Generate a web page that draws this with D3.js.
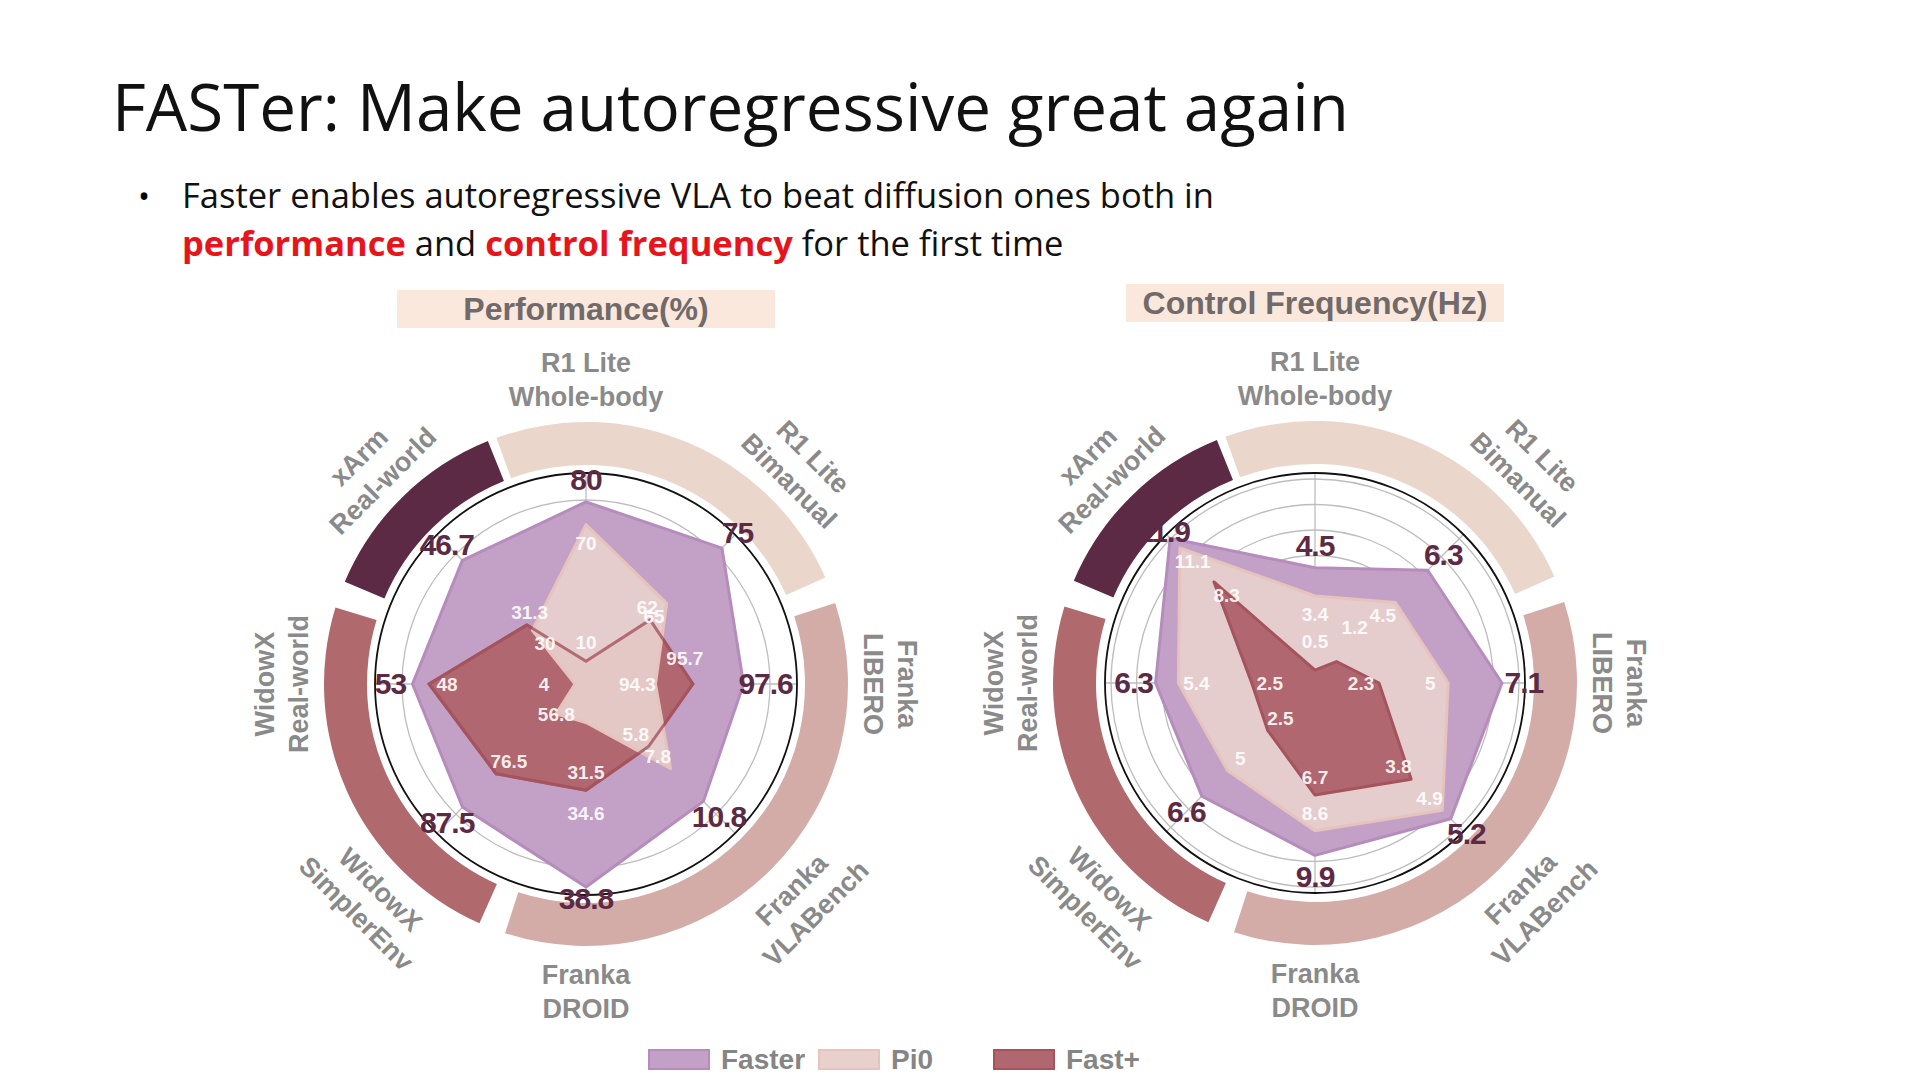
<!DOCTYPE html>
<html>
<head>
<meta charset="utf-8">
<script src="https://d3js.org/d3.v7.min.js"></script>
<style>
  body { margin: 0; background: #fff; }
  text { font-family: "Liberation Sans", Arial, sans-serif; }
</style>
</head>
<body>
<script>
// axes clockwise from top
var axes = ["R1 Lite\nWhole-body", "R1 Lite\nBimanual", "Franka\nLIBERO", "Franka\nVLABench",
            "Franka\nDROID", "WidowX\nSimplerEnv", "WidowX\nReal-world", "xArm\nReal-world"];
var series = ["Faster", "Pi0", "Fast+"];

// performance (%)
var perfFaster = [80, 75, 97.6, 10.8, 38.8, 87.5, 53, 46.7];
var perfPi0    = [70, 65, 94.3, 7.8, 26.4, 56.8, 4, 30];
var perfFastP  = [10, 62, 95.7, 5.8, 31.5, 76.5, 48, 31.3];
var perfPi0Labels = ["70", "65", "94.3", "7.8", "34.6", "56.8", "4", "30"];
var perfLo = [0, 50.4, 91.7, 0.1, 23.5, 47, 0.7, 17.2];
var perfHi = [92.7, 77.4, 99.6, 13.7, 39.4, 96, 64.3, 52.8];

// control frequency (Hz)
var freqFaster = [4.5, 6.3, 7.1, 5.2, 9.9, 6.6, 6.3, 11.9];
var freqPi0    = [3.4, 4.5, 5, 4.9, 8.6, 5, 5.4, 11.1];
var freqFastP  = [0.5, 1.2, 2.3, 3.8, 6.7, 2.5, 2.5, 8.3];
var freqLo = [0, 0, -0.2, 0.4, 0.75, -0.45, 0, 0];
var freqHi = [8.2, 8.3, 8.0, 5.65, 11.9, 8.8, 8.3, 12.2];

var groups = [
  {from: -20, to: 66, color: "#ead6ca"},
  {from: 72, to: 198, color: "#d4aca7"},
  {from: 204, to: 287, color: "#b06a6d"},
  {from: 293, to: 338, color: "#5d2a45"}
];
var colors = {
  "Faster": {fill: "#c3a1c7", stroke: "#b58cbc"},
  "Pi0":    {fill: "#e8d0cd", stroke: "#e6c3bd"},
  "Fast+":  {fill: "#b0676f", stroke: "#a5545e"}
};

var W = 1920, H = 1080;
var svg = d3.select("body").append("svg").attr("width", W).attr("height", H);

// slide header
svg.append("text").attr("x", 112).attr("y", 131)
  .style("font-family", "'Open Sans', sans-serif").attr("font-size", 65.5)
  .attr("fill", "#111").text("FASTer: Make autoregressive great again");
svg.append("text").attr("x", 138).attr("y", 208)
  .style("font-family", "'Open Sans', sans-serif").attr("font-size", 32).text("•");
svg.append("text").attr("x", 182).attr("y", 208)
  .style("font-family", "'Open Sans', sans-serif").attr("font-size", 34.5).attr("fill", "#111")
  .text("Faster enables autoregressive VLA to beat diffusion ones both in");
var l2 = svg.append("text").attr("x", 182).attr("y", 256)
  .style("font-family", "'Open Sans', sans-serif").attr("font-size", 34.5).attr("fill", "#111");
l2.append("tspan").attr("fill", "#e8141b").attr("font-weight", "bold").text("performance");
l2.append("tspan").text(" and ");
l2.append("tspan").attr("fill", "#e8141b").attr("font-weight", "bold").text("control frequency");
l2.append("tspan").text(" for the first time");

function radar(cx, cy, R, title, titleY, data, lo, hi, ringStep, rings, order, labels) {
  var g = svg.append("g").attr("transform", "translate(" + cx + "," + cy + ")");
  var ang = d3.scaleLinear().domain([0, axes.length]).range([0, 2 * Math.PI]);
  var scales = axes.map(function(a, i) { return d3.scaleLinear().domain([lo[i], hi[i]]).range([0, R]); });
  function pt(i, r) { return [r * Math.sin(ang(i)), -r * Math.cos(ang(i))]; }

  // title box
  svg.append("rect").attr("x", cx - 189).attr("y", titleY).attr("width", 378).attr("height", 38)
    .attr("fill", "#fbe8dc");
  svg.append("text").attr("x", cx).attr("y", titleY + 30).attr("text-anchor", "middle")
    .attr("font-size", 32).attr("font-weight", "bold").attr("fill", "#716a6a").text(title);

  // group arcs
  var arc = d3.arc().innerRadius(219).outerRadius(262);
  g.selectAll(".grp").data(groups).enter().append("path")
    .attr("d", function(d) { return arc({startAngle: d.from * Math.PI / 180, endAngle: d.to * Math.PI / 180}); })
    .attr("fill", function(d) { return d.color; });

  // grid
  g.selectAll(".ring").data(d3.range(1, rings + 1)).enter().append("circle")
    .attr("r", function(d) { return d * ringStep; })
    .attr("fill", "none").attr("stroke", "#bdbdbd").attr("stroke-width", 1.3);
  g.selectAll(".spoke").data(axes).enter().append("line")
    .attr("x1", 0).attr("y1", 0)
    .attr("x2", function(d, i) { return pt(i, R)[0]; })
    .attr("y2", function(d, i) { return pt(i, R)[1]; })
    .attr("stroke", "#bdbdbd").attr("stroke-width", 1.3);
  g.append("circle").attr("r", R).attr("fill", "none").attr("stroke", "#111").attr("stroke-width", 1.8);

  // polygons
  var line = d3.line().curve(d3.curveLinearClosed);
  order.forEach(function(s) {
    var vals = data[s];
    g.append("path")
      .attr("d", line(vals.map(function(v, i) { return pt(i, scales[i](v)); })))
      .attr("fill", colors[s].fill).attr("fill-opacity", s === "Pi0" ? 0.92 : 1)
      .attr("stroke", colors[s].stroke).attr("stroke-width", 3).attr("stroke-linejoin", "round");
  });
  if (order[order.length - 1] === "Pi0") {
    g.append("path")
      .attr("d", line(data["Fast+"].map(function(v, i) { return pt(i, scales[i](v)); })))
      .attr("fill", "none").attr("stroke", colors["Fast+"].stroke).attr("stroke-width", 3)
      .attr("stroke-opacity", 0.8);
  }

  // value labels
  var placed = [];
  ["Pi0", "Fast+"].forEach(function(s) {
    data[s].forEach(function(v, i) {
      var txt = (labels && labels[s]) ? labels[s][i] : String(v);
      var r = scales[i](labels && labels[s] ? +txt : v);
      var p = pt(i, Math.max(r - 18, 42));
      placed.forEach(function(q) {
        if (Math.abs(q[0] - p[0]) < 40 && Math.abs(q[1] - p[1]) < 20) {
          p = [p[0] + (p[0] < 0 ? -10 : 10), p[1] - 26];
        }
      });
      placed.push(p);
      g.append("text").attr("x", p[0]).attr("y", p[1] + 7).attr("text-anchor", "middle")
        .attr("font-size", 19).attr("font-weight", "bold").attr("fill", "#fff")
        .attr("fill-opacity", 0.9).text(txt);
    });
  });
  data["Faster"].forEach(function(v, i) {
    var p = pt(i, Math.min(scales[i](v) + 22, R + 4));
    g.append("text").attr("x", p[0]).attr("y", p[1] + 10).attr("text-anchor", "middle")
      .attr("font-size", 30).attr("font-weight", "bold").attr("fill", "#5d2a45")
      .attr("letter-spacing", -1).text(v);
  });

  // axis names
  var rot = [0, 45, 90, -45, 0, 45, -90, -45];
  axes.forEach(function(a, i) {
    var p = pt(i, 306);
    var t = g.append("text").attr("font-size", 27).attr("font-weight", "bold").attr("fill", "#8a8a8a")
      .attr("text-anchor", "middle")
      .attr("transform", "translate(" + p[0] + "," + p[1] + ") rotate(" + rot[i] + ")");
    a.split("\n").forEach(function(s, k) {
      t.append("tspan").attr("x", 0).attr("y", k === 0 ? -6 : 28).text(s);
    });
  });
}

radar(586, 684, 211, "Performance(%)", 290,
  {"Faster": perfFaster, "Pi0": perfPi0, "Fast+": perfFastP}, perfLo, perfHi, 46, 4,
  ["Faster", "Fast+", "Pi0"], {"Pi0": perfPi0Labels});
radar(1315, 683, 210, "Control Frequency(Hz)", 284,
  {"Faster": freqFaster, "Pi0": freqPi0, "Fast+": freqFastP}, freqLo, freqHi, 25.5, 8,
  ["Faster", "Pi0", "Fast+"], null);

// legend
var lx = [649, 819, 994];
series.forEach(function(s, i) {
  svg.append("rect").attr("x", lx[i]).attr("y", 1050).attr("width", 60).attr("height", 19)
    .attr("fill", colors[s].fill).attr("stroke", colors[s].stroke).attr("stroke-width", 2);
  svg.append("text").attr("x", lx[i] + 72).attr("y", 1069).attr("font-size", 28)
    .attr("font-weight", "bold").attr("fill", "#858585").text(s);
});
</script>
</body>
</html>
